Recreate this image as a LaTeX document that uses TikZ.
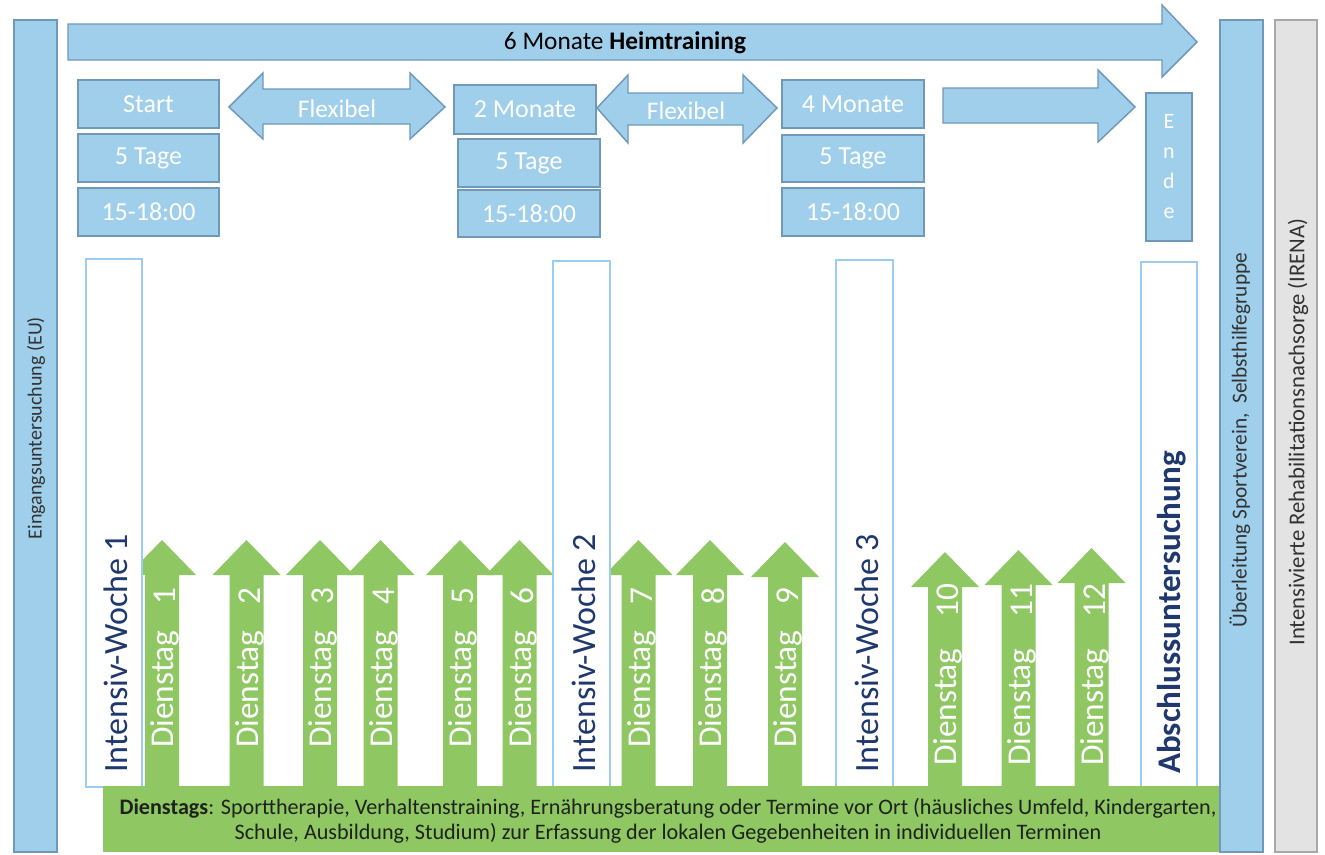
\documentclass[tikz,border=0pt]{standalone}
\usepackage{fontspec}
\setmainfont{Carlito}
\definecolor{bfill}{RGB}{160,207,235}
\definecolor{bline}{RGB}{111,152,186}
\definecolor{oline}{RGB}{157,205,238}
\definecolor{gfill}{RGB}{143,199,99}
\definecolor{gryfill}{RGB}{227,227,227}
\definecolor{gryline}{RGB}{168,168,168}
\definecolor{navy}{RGB}{31,56,110}
\definecolor{btext}{RGB}{30,34,28}
\definecolor{stext}{RGB}{50,50,50}
\newcommand\fsz[1]{\fontsize{#1pt}{#1pt}\selectfont}
\begin{document}
\begin{tikzpicture}[x=0.75pt,y=-0.75pt,
  bshape/.style={fill=bfill,draw=bline,line width=1.1pt},
  bbox/.style={bshape,inner sep=0pt,text=white,font=\fsz{19.5}},
  flex/.style={text=white,font=\fsz{19}},
  obox/.style={fill=white,draw=oline,line width=2pt},
  otxt/.style={rotate=90,anchor=west,text=navy,font=\fsz{25.5},inner sep=0pt},
  dtxt/.style={rotate=90,text=white,font=\fsz{25},inner sep=0pt},
  sidetxt/.style={rotate=90,text=stext,font=\fsz{15},inner sep=0pt}
]
\useasboundingbox (0,0) rectangle (1325,854);
\fill[white] (0,0) rectangle (1325,854);

% top arrow
\path[bshape] (68,24) -- (1162,24) -- (1162,5) -- (1197,42) -- (1162,77) -- (1162,60) -- (68,60) -- cycle;
\node[font=\fsz{19},text=black] (title) at (625,43) {6 Monate \textbf{Heimtraining}};

% flexible double arrows
\path[bshape] (229,107) -- (263,73) -- (263,89) -- (410,89) -- (410,73) -- (445,107) -- (410,139) -- (410,124) -- (263,124) -- (263,139) -- cycle;
\node[flex] (flex1) at (337,109) {Flexibel};
\path[bshape] (597,108) -- (628,75) -- (628,93) -- (743,93) -- (743,75) -- (777,108) -- (743,143) -- (743,125) -- (628,125) -- (628,143) -- cycle;
\node[flex] (flex2) at (686,111) {Flexibel};
% arrow to end
\path[bshape] (943,88) -- (1098,88) -- (1098,70) -- (1135,107) -- (1098,142) -- (1098,123) -- (943,123) -- cycle;

% boxes
\node[bbox,minimum width=105.75pt,minimum height=36pt] (start) at (148.5,104) {Start};
\node[bbox,minimum width=105.75pt,minimum height=36pt] (t1) at (148.5,158) {5 Tage};
\node[bbox,minimum width=105.75pt,minimum height=36pt] (h1) at (148.5,212) {15-18:00};
\node[bbox,minimum width=106.5pt,minimum height=36.75pt] (m2) at (525,109.5) {2 Monate};
\node[bbox,minimum width=106.5pt,minimum height=36pt] (t2) at (529,163) {5 Tage};
\node[bbox,minimum width=106.5pt,minimum height=35.25pt] (h2) at (529,213.5) {15-18:00};
\node[bbox,minimum width=106.5pt,minimum height=36pt] (m4) at (853,104) {4 Monate};
\node[bbox,minimum width=106.5pt,minimum height=35.25pt] (t4) at (853,158.5) {5 Tage};
\node[bbox,minimum width=106.5pt,minimum height=36pt] (h4) at (853,212) {15-18:00};
\node[bbox,minimum width=34.5pt,minimum height=111pt,align=center,font=\fontsize{16.5pt}{22.5pt}\selectfont] (ende) at (1169,167) {E\\n\\d\\e};

% green arrows
\foreach \c/\t/\s/\e/\n in {162/540/748/587/1, 246.5/540/748/587/2, 320/540/748/587/3, 380.5/540/748/587/4, 460/540/748/587/5, 519.5/540/748/587/6, 638.5/540/748/587/7, 710/540/748/587/8, 785/542/748/587/9, 945/552/766/583/10, 1018.5/550/766/583/11, 1091.5/548/766/583/12}{
  \fill[gfill] (\c-17,787) -- (\c-17,\t+35) -- (\c-34,\t+35) -- (\c,\t) -- (\c+34,\t+35) -- (\c+17,\t+35) -- (\c+17,787) -- cycle;
  \node[dtxt,anchor=west] (d\n) at (\c+3,\s) {Dienstag};
  \node[dtxt,anchor=east] (n\n) at (\c+3,\e) {\n};
}

% intensive week boxes
\draw[obox] (86,259) rectangle (142,787);
\node[otxt] (iw1) at (116,773) {Intensiv-Woche 1};
\draw[obox] (553,261) rectangle (610,788);
\node[otxt] (iw2) at (584,773) {Intensiv-Woche 2};
\draw[obox] (836,260) rectangle (893,787);
\node[otxt] (iw3) at (867,773) {Intensiv-Woche 3};
\draw[obox] (1141,262) rectangle (1197,787);
\node[otxt,font=\bfseries\fsz{24.8}] (ab) at (1172,774) {Abschlussuntersuchung};

% green band
\fill[gfill] (103,786) rectangle (1222,852);
\node[text=btext,align=center,font=\fontsize{16.6pt}{19pt}\selectfont] (dtext) at (668,821)
 {\textbf{Dienstags}: Sporttherapie, Verhaltenstraining, Ernährungsberatung oder Termine vor Ort (häusliches Umfeld, Kindergarten,\\
 Schule, Ausbildung, Studium) zur Erfassung der lokalen Gegebenheiten in individuellen Terminen};

% side bars
\path[bshape] (14,20) rectangle (57,852);
\node[sidetxt] (eu) at (36,428) {Eingangsuntersuchung (EU)};
\path[bshape] (1220,20) rectangle (1263,852);
\node[sidetxt,font=\fsz{16}] (ue) at (1240,440) {Überleitung Sportverein,\ \ Selbsthilfegruppe};
\path[fill=gryfill,draw=gryline,line width=1.1pt] (1275,20) rectangle (1317,852);
\node[sidetxt,font=\fsz{17}] (irena) at (1298,432) {Intensivierte Rehabilitationsnachsorge (IRENA)};
\end{tikzpicture}
\end{document}
